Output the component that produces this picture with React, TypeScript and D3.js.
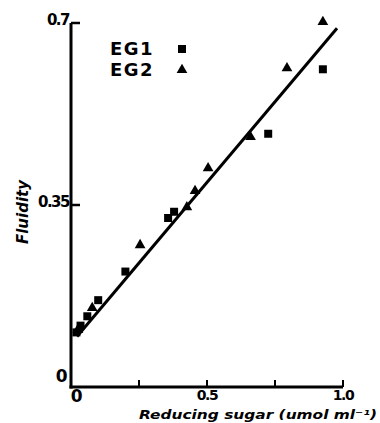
import { useRef, useEffect } from "react";
import * as d3 from "d3";

// EG1 (squares) and EG2 (triangles): reducing sugar vs fluidity
const eg1Sugar = [0.02, 0.035, 0.06, 0.1, 0.2, 0.357, 0.379, 0.725, 0.926];
const eg1Fluidity = [0.105, 0.118, 0.136, 0.167, 0.222, 0.325, 0.337, 0.487, 0.611];
const eg2Sugar = [0.025, 0.078, 0.254, 0.426, 0.456, 0.504, 0.66, 0.794, 0.926];
const eg2Fluidity = [0.11, 0.152, 0.273, 0.346, 0.377, 0.421, 0.481, 0.613, 0.702];

// fitted regression line
const fitX = [0.022, 0.978];
const fitY = [0.097, 0.69];

const xTicks = [0, 0.25, 0.5, 0.75, 1.0];
const xTickLabels = ["0", "", "0.5", "", "1.0"];
const yTicks = [0, 0.35, 0.7];
const yTickLabels = ["0", "0.35", "0.7"];

export default function App() {
  const svgRef = useRef<SVGSVGElement>(null);

  useEffect(() => {
    const svg = d3.select(svgRef.current);
    svg.selectAll("*").remove();

    const width = 380;
    const height = 423;
    svg.attr("width", width).attr("height", height);

    const x = d3.scaleLinear().domain([0, 1]).range([71, 343]);
    const y = d3.scaleLinear().domain([0, 0.7]).range([387, 23]);
    const wide = "'DejaVu Sans', sans-serif";

    // axes
    svg
      .append("line")
      .attr("x1", x(0))
      .attr("x2", x(0))
      .attr("y1", y(0) + 1.5)
      .attr("y2", y(0.7))
      .attr("stroke", "#000")
      .attr("stroke-width", 3);
    svg
      .append("line")
      .attr("x1", x(0) - 1.5)
      .attr("x2", x(1))
      .attr("y1", y(0))
      .attr("y2", y(0))
      .attr("stroke", "#000")
      .attr("stroke-width", 3);

    // y ticks point inward
    yTicks.forEach((t, i) => {
      if (t > 0) {
        svg
          .append("line")
          .attr("x1", x(0))
          .attr("x2", x(0) + 9)
          .attr("y1", y(t))
          .attr("y2", y(t))
          .attr("stroke", "#000")
          .attr("stroke-width", 2.5);
      }
      svg
        .append("text")
        .attr("x", t === 0 ? x(0) - 5 : x(0) - 2)
        .attr("y", t === 0 ? y(t) - 5 : y(t) + 2)
        .attr("text-anchor", "end")
        .style("font-family", wide)
        .attr("font-weight", "bold")
        .attr("font-size", t === 0 ? "17px" : "15px")
        .attr("letter-spacing", "-1.5px")
        .text(yTickLabels[i]);
    });

    xTicks.forEach((t, i) => {
      if (t > 0) {
        svg
          .append("line")
          .attr("x1", x(t))
          .attr("x2", x(t))
          .attr("y1", y(0))
          .attr("y2", y(0) - 7)
          .attr("stroke", "#000")
          .attr("stroke-width", 2);
      }
      if (xTickLabels[i]) {
        svg
          .append("text")
          .attr("x", t === 0 ? x(t) + 5 : x(t))
          .attr("y", t === 0 ? y(0) + 15 : y(0) + 13)
          .attr("text-anchor", "middle")
          .style("font-family", wide)
          .attr("font-weight", "bold")
          .attr("font-size", t === 0 ? "17px" : "14px")
          .attr("letter-spacing", "-1.5px")
          .text(xTickLabels[i]);
      }
    });

    // axis titles
    svg
      .append("text")
      .attr("transform", `translate(28, 212) rotate(-90)`)
      .attr("text-anchor", "middle")
      .style("font-family", wide)
      .attr("font-weight", "bold")
      .attr("font-style", "italic")
      .attr("font-size", "15px")
      .text("Fluidity");

    svg
      .append("text")
      .attr("x", 258)
      .attr("y", 419)
      .attr("text-anchor", "middle")
      .style("font-family", wide)
      .attr("font-weight", "bold")
      .attr("font-style", "italic")
      .attr("font-size", "13px")
      .attr("textLength", 238)
      .attr("lengthAdjust", "spacingAndGlyphs")
      .text("Reducing sugar (umol ml\u207B\u00B9)");

    // regression line
    const line = d3
      .line<number>()
      .x((d) => x(d))
      .y((_, i) => y(fitY[i]));
    svg
      .append("path")
      .attr("d", line(fitX))
      .attr("fill", "none")
      .attr("stroke", "#000")
      .attr("stroke-width", 3);

    const square = d3.symbol(d3.symbolSquare, 64);
    const triangle = d3.symbol(d3.symbolTriangle, 50);

    svg
      .append("g")
      .selectAll("path")
      .data(eg1Sugar)
      .join("path")
      .attr("d", square)
      .attr("transform", (d, i) => `translate(${x(d)},${y(eg1Fluidity[i])})`)
      .attr("fill", "#000");

    svg
      .append("g")
      .selectAll("path")
      .data(eg2Sugar)
      .join("path")
      .attr("d", triangle)
      .attr("transform", (d, i) => `translate(${x(d)},${y(eg2Fluidity[i])})`)
      .attr("fill", "#000");

    // legend
    const legend = svg.append("g");
    const legendItems = [
      { label: "EG1", sym: square, y: 49 },
      { label: "EG2", sym: triangle, y: 70 },
    ];
    legendItems.forEach((it) => {
      legend
        .append("text")
        .attr("x", 110)
        .attr("y", it.y + 6)
        .style("font-family", wide)
        .attr("font-size", "18px")
        .attr("font-weight", 600)
        .attr("letter-spacing", "1.5px")
        .text(it.label);
      legend
        .append("path")
        .attr("d", it.sym)
        .attr("transform", `translate(182,${it.y})`)
        .attr("fill", "#000");
    });
  }, []);

  return (
    <svg
      ref={svgRef}
      style={{ position: "absolute", left: 0, top: 0, background: "#fff" }}
    />
  );
}
